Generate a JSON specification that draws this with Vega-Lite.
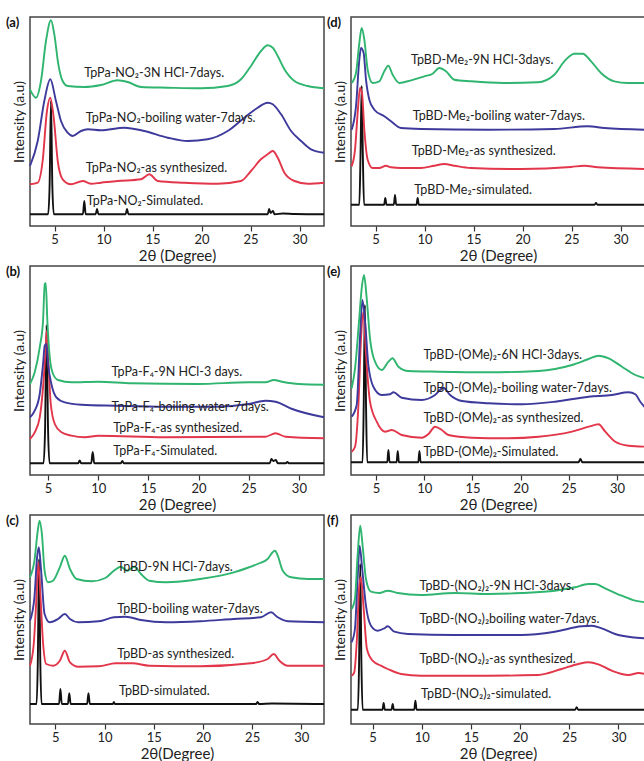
{
"$schema": "https://vega.github.io/schema/vega-lite/v6.json",
"padding": {"left": 5, "top": 15, "right": 0, "bottom": 0},
"bounds": "flush",
"columns": 2,
"spacing": {"row": 40, "column": 27},
"config": {
  "view": {"stroke": "#444444", "strokeWidth": 1.5},
  "font": "Lato",
  "axisX": {"grid": false, "domain": false, "tickColor": "#333333", "tickWidth": 1.2, "labelFontSize": 13, "labelFont": "Lato", "labelColor": "#222222", "labelPadding": 2, "titleFontSize": 15, "titleFont": "Lato", "titleFontWeight": "normal", "titleColor": "#222222", "titlePadding": 2,
    "values": [5, 7.5, 10, 12.5, 15, 17.5, 20, 22.5, 25, 27.5, 30],
    "labelExpr": "datum.value % 5 === 0 ? datum.label : ''",
    "tickSize": {"condition": {"test": "datum.value % 5 === 0", "value": 5}, "value": 3}},
  "axisY": {"grid": false, "domain": false, "ticks": false, "labels": false, "titleFontSize": 14, "titleFont": "Lato", "titleFontWeight": "normal", "titleColor": "#222222", "titlePadding": 4},
  "title": {"anchor": "start", "frame": "group", "fontSize": 13, "fontWeight": "bold", "font": "Lato", "baseline": "top", "offset": 0, "dx": -24, "dy": 17, "color": "#111111"},
  "text": {"font": "Lato", "fontSize": 12.5, "color": "#222222", "align": "left", "baseline": "middle"},
  "line": {"strokeWidth": 1.9, "clip": true, "interpolate": "monotone"}
},
"datasets": {
"a": [
{"series":"sim","x":2.5,"y":11.7},{"series":"sim","x":4.35,"y":11.7},{"series":"sim","x":4.5,"y":40},{"series":"sim","x":4.64,"y":125},{"series":"sim","x":4.78,"y":40},{"series":"sim","x":4.93,"y":11.7},{"series":"sim","x":7.9,"y":11.7},{"series":"sim","x":8.04,"y":25},{"series":"sim","x":8.18,"y":11.7},{"series":"sim","x":9.2,"y":11.7},{"series":"sim","x":9.34,"y":17},{"series":"sim","x":9.48,"y":11.7},{"series":"sim","x":12.26,"y":11.7},{"series":"sim","x":12.4,"y":17},{"series":"sim","x":12.54,"y":11.7},{"series":"sim","x":26.76,"y":11.7},{"series":"sim","x":26.9,"y":17},{"series":"sim","x":27.05,"y":13},{"series":"sim","x":27.3,"y":15},{"series":"sim","x":27.45,"y":11.7},{"series":"sim","x":28.3,"y":12.5},{"series":"sim","x":29.5,"y":12},{"series":"sim","x":32.5,"y":11.7},
{"series":"syn","x":2.5,"y":41.7},{"series":"syn","x":3.29,"y":43.3},{"series":"syn","x":3.79,"y":65},{"series":"syn","x":4.23,"y":115},{"series":"syn","x":4.57,"y":128.3},{"series":"syn","x":4.92,"y":108.3},{"series":"syn","x":5.33,"y":65},{"series":"syn","x":5.83,"y":46.7},{"series":"syn","x":6.68,"y":41.7},{"series":"syn","x":7.88,"y":45},{"series":"syn","x":8.72,"y":42.3},{"series":"syn","x":9.74,"y":43.3},{"series":"syn","x":11.44,"y":45},{"series":"syn","x":13.83,"y":46.7},{"series":"syn","x":14.68,"y":51.7},{"series":"syn","x":15.53,"y":45},{"series":"syn","x":18.25,"y":43.3},{"series":"syn","x":21.65,"y":42.3},{"series":"syn","x":24.03,"y":45},{"series":"syn","x":25.05,"y":55},{"series":"syn","x":26.07,"y":66.7},{"series":"syn","x":26.75,"y":71.7},{"series":"syn","x":27.27,"y":75},{"series":"syn","x":27.78,"y":68.3},{"series":"syn","x":28.46,"y":53.3},{"series":"syn","x":29.48,"y":45},{"series":"syn","x":30.84,"y":42.3},{"series":"syn","x":32.5,"y":43.3},
{"series":"water","x":2.5,"y":60},{"series":"water","x":3.29,"y":85},{"series":"water","x":3.96,"y":125},{"series":"water","x":4.57,"y":146.7},{"series":"water","x":5.15,"y":125},{"series":"water","x":5.66,"y":105},{"series":"water","x":6.34,"y":93.3},{"series":"water","x":6.86,"y":90},{"series":"water","x":7.7,"y":95},{"series":"water","x":8.39,"y":96.7},{"series":"water","x":9.74,"y":95.7},{"series":"water","x":12.12,"y":98.3},{"series":"water","x":14.17,"y":95},{"series":"water","x":16.55,"y":88.3},{"series":"water","x":18.59,"y":85},{"series":"water","x":20.63,"y":86.7},{"series":"water","x":22.67,"y":95},{"series":"water","x":24.37,"y":108.3},{"series":"water","x":25.73,"y":118.3},{"series":"water","x":26.75,"y":123.3},{"series":"water","x":27.27,"y":121.7},{"series":"water","x":28.12,"y":111.7},{"series":"water","x":29.14,"y":95},{"series":"water","x":30.16,"y":85},{"series":"water","x":31.17,"y":76.7},{"series":"water","x":32.5,"y":73.3},
{"series":"acid","x":2.5,"y":136.7},{"series":"acid","x":3.11,"y":128.3},{"series":"acid","x":3.62,"y":145},{"series":"acid","x":4.13,"y":185},{"series":"acid","x":4.64,"y":205.7},{"series":"acid","x":4.98,"y":191.7},{"series":"acid","x":5.39,"y":161.7},{"series":"acid","x":5.83,"y":145},{"series":"acid","x":6.34,"y":140},{"series":"acid","x":8.04,"y":139},{"series":"acid","x":9.74,"y":141},{"series":"acid","x":11.44,"y":145.7},{"series":"acid","x":12.47,"y":144},{"series":"acid","x":13.83,"y":139},{"series":"acid","x":16.55,"y":138.3},{"series":"acid","x":19.95,"y":137.7},{"series":"acid","x":22.67,"y":140},{"series":"acid","x":24.03,"y":146.7},{"series":"acid","x":25.05,"y":160},{"series":"acid","x":26.07,"y":175},{"series":"acid","x":26.75,"y":180.7},{"series":"acid","x":27.27,"y":178.3},{"series":"acid","x":27.78,"y":170},{"series":"acid","x":28.46,"y":156.7},{"series":"acid","x":29.48,"y":145},{"series":"acid","x":30.84,"y":140},{"series":"acid","x":32.5,"y":137.7}
],
"b": [
{"series":"sim","x":3.2,"y":11.7},{"series":"sim","x":4.55,"y":11.7},{"series":"sim","x":4.7,"y":45},{"series":"sim","x":4.85,"y":150},{"series":"sim","x":5.0,"y":45},{"series":"sim","x":5.15,"y":11.7},{"series":"sim","x":8.0,"y":11.7},{"series":"sim","x":8.15,"y":14.5},{"series":"sim","x":8.3,"y":11.7},{"series":"sim","x":9.3,"y":11.7},{"series":"sim","x":9.45,"y":23},{"series":"sim","x":9.6,"y":11.7},{"series":"sim","x":12.25,"y":11.7},{"series":"sim","x":12.4,"y":14},{"series":"sim","x":12.55,"y":11.7},{"series":"sim","x":27.1,"y":11.7},{"series":"sim","x":27.25,"y":16},{"series":"sim","x":27.45,"y":14},{"series":"sim","x":27.7,"y":15},{"series":"sim","x":27.9,"y":11.7},{"series":"sim","x":28.7,"y":11.7},{"series":"sim","x":28.85,"y":13},{"series":"sim","x":29.0,"y":11.7},{"series":"sim","x":32.5,"y":11.7},
{"series":"syn","x":3.2,"y":36},{"series":"syn","x":3.67,"y":42.7},{"series":"syn","x":4.17,"y":57.7},{"series":"syn","x":4.5,"y":87.7},{"series":"syn","x":4.73,"y":121},{"series":"syn","x":4.87,"y":144.3},{"series":"syn","x":5.0,"y":121},{"series":"syn","x":5.27,"y":71},{"series":"syn","x":5.67,"y":51},{"series":"syn","x":6.33,"y":42.7},{"series":"syn","x":7.33,"y":39.3},{"series":"syn","x":8.67,"y":37.7},{"series":"syn","x":10.0,"y":39.3},{"series":"syn","x":16.67,"y":37.7},{"series":"syn","x":26.67,"y":38.3},{"series":"syn","x":27.67,"y":41.7},{"series":"syn","x":28.67,"y":38.3},{"series":"syn","x":32.5,"y":36.7},
{"series":"water","x":3.2,"y":57.7},{"series":"water","x":3.67,"y":64.3},{"series":"water","x":4.17,"y":81},{"series":"water","x":4.5,"y":111},{"series":"water","x":4.67,"y":129.3},{"series":"water","x":4.83,"y":131},{"series":"water","x":5.0,"y":111},{"series":"water","x":5.33,"y":91},{"series":"water","x":5.83,"y":77.7},{"series":"water","x":6.67,"y":72.7},{"series":"water","x":8.33,"y":70.3},{"series":"water","x":11.67,"y":69.3},{"series":"water","x":16.67,"y":68.3},{"series":"water","x":21.67,"y":68.3},{"series":"water","x":25.0,"y":71},{"series":"water","x":26.67,"y":74.3},{"series":"water","x":27.67,"y":73.3},{"series":"water","x":29.33,"y":66},{"series":"water","x":32.5,"y":57.7},
{"series":"acid","x":3.2,"y":91},{"series":"acid","x":3.67,"y":102.7},{"series":"acid","x":4.17,"y":127.7},{"series":"acid","x":4.5,"y":154.3},{"series":"acid","x":4.67,"y":191},{"series":"acid","x":4.77,"y":191.7},{"series":"acid","x":4.93,"y":154},{"series":"acid","x":5.17,"y":117.7},{"series":"acid","x":5.5,"y":101},{"series":"acid","x":6.0,"y":95},{"series":"acid","x":7.33,"y":92.7},{"series":"acid","x":10.0,"y":93.3},{"series":"acid","x":13.33,"y":91.7},{"series":"acid","x":20.0,"y":91},{"series":"acid","x":25.0,"y":92.7},{"series":"acid","x":26.67,"y":92.7},{"series":"acid","x":27.5,"y":95},{"series":"acid","x":28.33,"y":93.3},{"series":"acid","x":30.0,"y":91},{"series":"acid","x":32.5,"y":90.3}
],
"c": [
{"series":"sim","x":2.43,"y":20},{"series":"sim","x":3.1,"y":20},{"series":"sim","x":3.22,"y":60},{"series":"sim","x":3.35,"y":165},{"series":"sim","x":3.48,"y":60},{"series":"sim","x":3.6,"y":20},{"series":"sim","x":5.38,"y":20},{"series":"sim","x":5.52,"y":35},{"series":"sim","x":5.66,"y":20},{"series":"sim","x":6.28,"y":20},{"series":"sim","x":6.42,"y":30.7},{"series":"sim","x":6.56,"y":20},{"series":"sim","x":8.23,"y":20},{"series":"sim","x":8.37,"y":30.7},{"series":"sim","x":8.51,"y":20},{"series":"sim","x":10.85,"y":20},{"series":"sim","x":10.95,"y":22},{"series":"sim","x":11.05,"y":20},{"series":"sim","x":25.4,"y":20},{"series":"sim","x":25.55,"y":22},{"series":"sim","x":25.7,"y":20},{"series":"sim","x":27.0,"y":20.5},{"series":"sim","x":32.3,"y":20},
{"series":"syn","x":2.43,"y":58.3},{"series":"syn","x":2.81,"y":80},{"series":"syn","x":3.05,"y":120},{"series":"syn","x":3.26,"y":161.7},{"series":"syn","x":3.5,"y":126.7},{"series":"syn","x":3.74,"y":83.3},{"series":"syn","x":4.08,"y":60},{"series":"syn","x":4.77,"y":58.3},{"series":"syn","x":5.46,"y":63.3},{"series":"syn","x":5.97,"y":73.3},{"series":"syn","x":6.49,"y":61.7},{"series":"syn","x":7.34,"y":57.3},{"series":"syn","x":9.41,"y":57.7},{"series":"syn","x":11.12,"y":60.7},{"series":"syn","x":12.83,"y":60.7},{"series":"syn","x":14.55,"y":58.3},{"series":"syn","x":19.72,"y":57.7},{"series":"syn","x":24.86,"y":60.7},{"series":"syn","x":26.57,"y":65},{"series":"syn","x":27.19,"y":70},{"series":"syn","x":27.77,"y":63.3},{"series":"syn","x":28.63,"y":58.3},{"series":"syn","x":32.34,"y":58.3},
{"series":"water","x":2.43,"y":103.3},{"series":"water","x":2.88,"y":126.7},{"series":"water","x":3.15,"y":166.7},{"series":"water","x":3.33,"y":176.7},{"series":"water","x":3.56,"y":153.3},{"series":"water","x":3.91,"y":110},{"series":"water","x":4.43,"y":101.7},{"series":"water","x":5.28,"y":105},{"series":"water","x":5.97,"y":110},{"series":"water","x":6.49,"y":105},{"series":"water","x":7.34,"y":101.7},{"series":"water","x":9.41,"y":102.7},{"series":"water","x":10.95,"y":106.7},{"series":"water","x":12.15,"y":107.3},{"series":"water","x":13.7,"y":104},{"series":"water","x":16.27,"y":101.7},{"series":"water","x":19.72,"y":102.7},{"series":"water","x":23.13,"y":105},{"series":"water","x":25.89,"y":106.7},{"series":"water","x":26.92,"y":111.7},{"series":"water","x":27.6,"y":106.7},{"series":"water","x":28.63,"y":102.7},{"series":"water","x":32.34,"y":101.7},
{"series":"acid","x":2.43,"y":146.7},{"series":"acid","x":2.88,"y":163.3},{"series":"acid","x":3.22,"y":193.3},{"series":"acid","x":3.4,"y":203.3},{"series":"acid","x":3.64,"y":190},{"series":"acid","x":3.91,"y":153.3},{"series":"acid","x":4.25,"y":141.7},{"series":"acid","x":4.77,"y":143.3},{"series":"acid","x":5.46,"y":156.7},{"series":"acid","x":5.97,"y":168.3},{"series":"acid","x":6.49,"y":155},{"series":"acid","x":7.17,"y":145},{"series":"acid","x":8.71,"y":142.7},{"series":"acid","x":10.09,"y":146},{"series":"acid","x":10.95,"y":153.3},{"series":"acid","x":11.64,"y":157.3},{"series":"acid","x":12.32,"y":153.3},{"series":"acid","x":13.01,"y":157.3},{"series":"acid","x":13.7,"y":150},{"series":"acid","x":14.55,"y":143.3},{"series":"acid","x":16.27,"y":141.7},{"series":"acid","x":19.72,"y":145},{"series":"acid","x":23.13,"y":151.7},{"series":"acid","x":25.54,"y":160},{"series":"acid","x":26.57,"y":165},{"series":"acid","x":27.08,"y":171.7},{"series":"acid","x":27.32,"y":173.3},{"series":"acid","x":27.6,"y":168.3},{"series":"acid","x":28.11,"y":153.3},{"series":"acid","x":28.97,"y":146.7},{"series":"acid","x":30.69,"y":145},{"series":"acid","x":32.34,"y":145}
],
"d": [
{"series":"sim","x":2.5,"y":21.3},{"series":"sim","x":3.35,"y":21.3},{"series":"sim","x":3.47,"y":70},{"series":"sim","x":3.59,"y":140},{"series":"sim","x":3.71,"y":70},{"series":"sim","x":3.83,"y":21.3},{"series":"sim","x":5.88,"y":21.3},{"series":"sim","x":6.0,"y":28},{"series":"sim","x":6.12,"y":21.3},{"series":"sim","x":6.87,"y":21.3},{"series":"sim","x":6.99,"y":31},{"series":"sim","x":7.11,"y":21.3},{"series":"sim","x":9.18,"y":21.3},{"series":"sim","x":9.3,"y":28},{"series":"sim","x":9.42,"y":21.3},{"series":"sim","x":27.35,"y":21.3},{"series":"sim","x":27.5,"y":23},{"series":"sim","x":27.65,"y":21.3},{"series":"sim","x":32.5,"y":21.3},
{"series":"syn","x":2.57,"y":59.7},{"series":"syn","x":2.91,"y":76.3},{"series":"syn","x":3.18,"y":113},{"series":"syn","x":3.42,"y":138},{"series":"syn","x":3.62,"y":133},{"series":"syn","x":3.86,"y":96.3},{"series":"syn","x":4.2,"y":66.3},{"series":"syn","x":4.71,"y":58},{"series":"syn","x":5.39,"y":58},{"series":"syn","x":6.07,"y":60.3},{"series":"syn","x":6.58,"y":58.7},{"series":"syn","x":7.6,"y":58},{"series":"syn","x":9.64,"y":58},{"series":"syn","x":11.0,"y":60.3},{"series":"syn","x":12.02,"y":62},{"series":"syn","x":13.04,"y":60.3},{"series":"syn","x":14.74,"y":58},{"series":"syn","x":19.85,"y":57},{"series":"syn","x":24.95,"y":59},{"series":"syn","x":26.31,"y":60.3},{"series":"syn","x":27.67,"y":58.7},{"series":"syn","x":32.5,"y":57},
{"series":"water","x":2.57,"y":96.3},{"series":"water","x":3.01,"y":119.7},{"series":"water","x":3.35,"y":166.3},{"series":"water","x":3.52,"y":178},{"series":"water","x":3.79,"y":173},{"series":"water","x":4.03,"y":146.3},{"series":"water","x":4.37,"y":126.3},{"series":"water","x":4.88,"y":116.3},{"series":"water","x":5.9,"y":109.7},{"series":"water","x":6.58,"y":104.7},{"series":"water","x":7.6,"y":98},{"series":"water","x":9.64,"y":97},{"series":"water","x":16.45,"y":96.3},{"series":"water","x":23.25,"y":97},{"series":"water","x":26.65,"y":99.7},{"series":"water","x":28.35,"y":98},{"series":"water","x":32.5,"y":96.3},
{"series":"acid","x":2.57,"y":143},{"series":"acid","x":3.01,"y":153},{"series":"acid","x":3.35,"y":183},{"series":"acid","x":3.59,"y":198},{"series":"acid","x":3.86,"y":186.3},{"series":"acid","x":4.2,"y":156.3},{"series":"acid","x":4.71,"y":143},{"series":"acid","x":5.39,"y":144.7},{"series":"acid","x":5.9,"y":154.7},{"series":"acid","x":6.31,"y":160.3},{"series":"acid","x":6.75,"y":151.3},{"series":"acid","x":7.43,"y":143},{"series":"acid","x":8.62,"y":145.7},{"series":"acid","x":9.98,"y":149.7},{"series":"acid","x":10.83,"y":152.3},{"series":"acid","x":11.51,"y":158},{"series":"acid","x":12.19,"y":154.7},{"series":"acid","x":13.04,"y":146.3},{"series":"acid","x":14.74,"y":144.7},{"series":"acid","x":18.1,"y":143},{"series":"acid","x":21.55,"y":143.7},{"series":"acid","x":23.25,"y":151.3},{"series":"acid","x":24.27,"y":164.7},{"series":"acid","x":25.29,"y":172.3},{"series":"acid","x":26.14,"y":172.3},{"series":"acid","x":27.0,"y":164.7},{"series":"acid","x":28.01,"y":153},{"series":"acid","x":29.37,"y":144.7},{"series":"acid","x":30.73,"y":143},{"series":"acid","x":32.5,"y":143}
],
"e": [
{"series":"sim","x":2.4,"y":12.7},{"series":"sim","x":3.6,"y":12.7},{"series":"sim","x":3.72,"y":70},{"series":"sim","x":3.84,"y":170},{"series":"sim","x":3.96,"y":70},{"series":"sim","x":4.08,"y":12.7},{"series":"sim","x":6.16,"y":12.7},{"series":"sim","x":6.28,"y":25},{"series":"sim","x":6.4,"y":12.7},{"series":"sim","x":7.13,"y":12.7},{"series":"sim","x":7.25,"y":24},{"series":"sim","x":7.37,"y":12.7},{"series":"sim","x":9.38,"y":12.7},{"series":"sim","x":9.5,"y":24},{"series":"sim","x":9.62,"y":12.7},{"series":"sim","x":26.0,"y":12.7},{"series":"sim","x":26.2,"y":16},{"series":"sim","x":26.4,"y":12.7},{"series":"sim","x":32.9,"y":12.7},
{"series":"syn","x":2.47,"y":23.3},{"series":"syn","x":2.82,"y":28.3},{"series":"syn","x":3.17,"y":70},{"series":"syn","x":3.44,"y":136.7},{"series":"syn","x":3.69,"y":163.3},{"series":"syn","x":3.96,"y":120},{"series":"syn","x":4.37,"y":73.3},{"series":"syn","x":5.07,"y":53.3},{"series":"syn","x":5.93,"y":43.3},{"series":"syn","x":6.63,"y":45},{"series":"syn","x":7.66,"y":40},{"series":"syn","x":9.74,"y":37.3},{"series":"syn","x":10.44,"y":41},{"series":"syn","x":11.12,"y":48.3},{"series":"syn","x":11.82,"y":45},{"series":"syn","x":12.51,"y":40},{"series":"syn","x":14.93,"y":37.3},{"series":"syn","x":18.39,"y":36.7},{"series":"syn","x":21.86,"y":38.3},{"series":"syn","x":25.32,"y":43.3},{"series":"syn","x":27.05,"y":48.3},{"series":"syn","x":28.09,"y":50.7},{"series":"syn","x":28.78,"y":43.3},{"series":"syn","x":29.82,"y":33.3},{"series":"syn","x":31.2,"y":29.3},{"series":"syn","x":32.93,"y":28.3},
{"series":"water","x":2.47,"y":58.3},{"series":"water","x":2.99,"y":70},{"series":"water","x":3.33,"y":136.7},{"series":"water","x":3.58,"y":175},{"series":"water","x":3.86,"y":153.3},{"series":"water","x":4.2,"y":110},{"series":"water","x":4.72,"y":88.3},{"series":"water","x":5.59,"y":80},{"series":"water","x":6.45,"y":80.7},{"series":"water","x":6.8,"y":82.7},{"series":"water","x":7.66,"y":77.3},{"series":"water","x":9.74,"y":75},{"series":"water","x":11.12,"y":80},{"series":"water","x":11.99,"y":87.3},{"series":"water","x":12.68,"y":80},{"series":"water","x":13.9,"y":74},{"series":"water","x":16.67,"y":71.7},{"series":"water","x":20.13,"y":70.7},{"series":"water","x":23.58,"y":73.3},{"series":"water","x":27.05,"y":78.3},{"series":"water","x":29.47,"y":80},{"series":"water","x":31.2,"y":82.7},{"series":"water","x":31.9,"y":80.7},{"series":"water","x":32.41,"y":73.3},{"series":"water","x":32.93,"y":67.3},
{"series":"acid","x":2.47,"y":86.7},{"series":"acid","x":2.82,"y":106.7},{"series":"acid","x":3.23,"y":153.3},{"series":"acid","x":3.51,"y":186.7},{"series":"acid","x":3.75,"y":200},{"series":"acid","x":4.03,"y":176.7},{"series":"acid","x":4.37,"y":136.7},{"series":"acid","x":4.89,"y":113.3},{"series":"acid","x":5.59,"y":105},{"series":"acid","x":6.28,"y":113.3},{"series":"acid","x":6.7,"y":116.7},{"series":"acid","x":7.32,"y":108.3},{"series":"acid","x":8.36,"y":104},{"series":"acid","x":11.48,"y":103.3},{"series":"acid","x":16.67,"y":102.7},{"series":"acid","x":21.86,"y":104},{"series":"acid","x":25.32,"y":110},{"series":"acid","x":27.05,"y":116},{"series":"acid","x":28.09,"y":119.3},{"series":"acid","x":29.13,"y":116.7},{"series":"acid","x":30.51,"y":108.3},{"series":"acid","x":31.9,"y":100},{"series":"acid","x":32.93,"y":96.7}
],
"f": [
{"series":"sim","x":2.8,"y":14.3},{"series":"sim","x":3.5,"y":14.3},{"series":"sim","x":3.62,"y":60},{"series":"sim","x":3.74,"y":160},{"series":"sim","x":3.86,"y":60},{"series":"sim","x":3.98,"y":14.3},{"series":"sim","x":6.0,"y":14.3},{"series":"sim","x":6.12,"y":21},{"series":"sim","x":6.24,"y":14.3},{"series":"sim","x":6.92,"y":14.3},{"series":"sim","x":7.04,"y":20},{"series":"sim","x":7.16,"y":14.3},{"series":"sim","x":9.23,"y":14.3},{"series":"sim","x":9.35,"y":23.3},{"series":"sim","x":9.47,"y":14.3},{"series":"sim","x":25.6,"y":14.3},{"series":"sim","x":25.75,"y":16.7},{"series":"sim","x":25.9,"y":14.3},{"series":"sim","x":32.7,"y":14.3},
{"series":"syn","x":2.86,"y":48.3},{"series":"syn","x":3.13,"y":51.7},{"series":"syn","x":3.4,"y":85},{"series":"syn","x":3.64,"y":138.3},{"series":"syn","x":3.81,"y":146.7},{"series":"syn","x":4.09,"y":115},{"series":"syn","x":4.42,"y":75},{"series":"syn","x":5.0,"y":63.3},{"series":"syn","x":5.85,"y":58.3},{"series":"syn","x":6.53,"y":55},{"series":"syn","x":7.89,"y":50},{"series":"syn","x":9.93,"y":48.3},{"series":"syn","x":16.74,"y":48.3},{"series":"syn","x":21.84,"y":49},{"series":"syn","x":24.22,"y":55},{"series":"syn","x":25.92,"y":60},{"series":"syn","x":26.94,"y":61.7},{"series":"syn","x":27.96,"y":59.7},{"series":"syn","x":29.32,"y":53.3},{"series":"syn","x":31.03,"y":49},{"series":"syn","x":32.05,"y":51},{"series":"syn","x":32.72,"y":50},
{"series":"water","x":2.86,"y":81.7},{"series":"water","x":3.2,"y":95},{"series":"water","x":3.47,"y":145},{"series":"water","x":3.68,"y":178.3},{"series":"water","x":3.94,"y":155},{"series":"water","x":4.32,"y":118.3},{"series":"water","x":4.83,"y":98.3},{"series":"water","x":5.51,"y":93.3},{"series":"water","x":6.19,"y":95.7},{"series":"water","x":6.53,"y":97.7},{"series":"water","x":7.21,"y":92.3},{"series":"water","x":8.58,"y":90},{"series":"water","x":13.33,"y":89},{"series":"water","x":20.14,"y":89},{"series":"water","x":23.54,"y":92.3},{"series":"water","x":26.26,"y":97.7},{"series":"water","x":27.28,"y":98.3},{"series":"water","x":28.3,"y":95.7},{"series":"water","x":29.66,"y":90},{"series":"water","x":31.36,"y":86.7},{"series":"water","x":32.72,"y":85.7},
{"series":"acid","x":2.86,"y":115},{"series":"acid","x":3.2,"y":125},{"series":"acid","x":3.47,"y":168.3},{"series":"acid","x":3.74,"y":198.3},{"series":"acid","x":3.98,"y":178.3},{"series":"acid","x":4.32,"y":145},{"series":"acid","x":4.83,"y":132.3},{"series":"acid","x":5.68,"y":131},{"series":"acid","x":6.53,"y":133.3},{"series":"acid","x":7.55,"y":131},{"series":"acid","x":9.93,"y":129},{"series":"acid","x":13.33,"y":131},{"series":"acid","x":16.74,"y":130},{"series":"acid","x":20.14,"y":131},{"series":"acid","x":23.54,"y":133.3},{"series":"acid","x":25.58,"y":136.7},{"series":"acid","x":26.94,"y":140},{"series":"acid","x":27.62,"y":140},{"series":"acid","x":28.64,"y":135.7},{"series":"acid","x":30.34,"y":128.3},{"series":"acid","x":31.7,"y":123.3},{"series":"acid","x":32.72,"y":121.7}
],
"la": [{"x":8.04,"y":153.3,"label":"TpPa-NO₂-3N HCl-7days."},{"x":8.2,"y":108.3,"label":"TpPa-NO₂-boiling water-7days."},{"x":8.2,"y":58.3,"label":"TpPa-NO₂-as synthesized."},{"x":8.3,"y":25,"label":"TpPa-NO₂-Simulated."}],
"lb": [{"x":11.33,"y":102.7,"label":"TpPa-F₄-9N HCl-3 days."},{"x":11.33,"y":67.7,"label":"TpPa-F₄-boiling water-7days."},{"x":11.5,"y":47,"label":"TpPa-F₄-as synthesized."},{"x":11.5,"y":23.7,"label":"TpPa-F₄-Simulated."}],
"lc": [{"x":11.29,"y":156.7,"label":"TpBD-9N HCl-7days."},{"x":11.29,"y":115,"label":"TpBD-boiling water-7days."},{"x":11.29,"y":70,"label":"TpBD-as synthesized."},{"x":11.46,"y":33.3,"label":"TpBD-simulated."}],
"ld": [{"x":8.62,"y":166.3,"label":"TpBD-Me₂-9N HCl-3days."},{"x":8.79,"y":109.7,"label":"TpBD-Me₂-boiling water-7days."},{"x":8.7,"y":74.7,"label":"TpBD-Me₂-as synthesized."},{"x":8.96,"y":36.3,"label":"TpBD-Me₂-simulated."}],
"le": [{"x":9.92,"y":120,"label":"TpBD-(OMe)₂-6N HCl-3days."},{"x":9.92,"y":86.7,"label":"TpBD-(OMe)₂-boiling water-7days."},{"x":9.92,"y":56.7,"label":"TpBD-(OMe)₂-as synthesized."},{"x":9.92,"y":23.3,"label":"TpBD-(OMe)₂-Simulated."}],
"lf": [{"x":9.76,"y":138.3,"label":"TpBD-(NO₂)₂-9N HCl-3days."},{"x":9.76,"y":105,"label":"TpBD-(NO₂)₂boiling water-7days."},{"x":9.76,"y":65,"label":"TpBD-(NO₂)₂-as synthesized."},{"x":9.93,"y":30,"label":"TpBD-(NO₂)₂-simulated."}]
},
"concat": [
{"width": 294, "height": 209, "title": "(a)", "layer": [
 {"data": {"name": "a"}, "mark": "line", "encoding": {"x": {"field": "x", "type": "quantitative", "scale": {"domain": [2.5, 32.5], "nice": false, "zero": false}, "axis": {"title": "2θ (Degree)"}}, "y": {"field": "y", "type": "quantitative", "scale": {"domain": [0, 209], "nice": false, "zero": false}, "axis": {"title": "Intensity (a.u)"}}, "color": {"field": "series", "type": "nominal", "scale": {"domain": ["sim", "syn", "water", "acid"], "range": ["#111111", "#e2364a", "#3d3a9c", "#2fb56f"]}, "legend": null}}},
 {"data": {"name": "la"}, "mark": "text", "encoding": {"x": {"field": "x", "type": "quantitative"}, "y": {"field": "y", "type": "quantitative"}, "text": {"field": "label"}}}
]},
{"width": 294, "height": 209, "title": "(d)", "layer": [
 {"data": {"name": "d"}, "mark": "line", "encoding": {"x": {"field": "x", "type": "quantitative", "scale": {"domain": [2.5, 32.5], "nice": false, "zero": false}, "axis": {"title": "2θ (Degree)"}}, "y": {"field": "y", "type": "quantitative", "scale": {"domain": [0, 209], "nice": false, "zero": false}, "axis": {"title": "Intensity (a.u)"}}, "color": {"field": "series", "type": "nominal", "scale": {"domain": ["sim", "syn", "water", "acid"], "range": ["#111111", "#e2364a", "#3d3a9c", "#2fb56f"]}, "legend": null}}},
 {"data": {"name": "ld"}, "mark": "text", "encoding": {"x": {"field": "x", "type": "quantitative"}, "y": {"field": "y", "type": "quantitative"}, "text": {"field": "label"}}}
]},
{"width": 294, "height": 209, "title": "(b)", "layer": [
 {"data": {"name": "b"}, "mark": "line", "encoding": {"x": {"field": "x", "type": "quantitative", "scale": {"domain": [3.2, 32.5], "nice": false, "zero": false}, "axis": {"title": "2θ (Degree)"}}, "y": {"field": "y", "type": "quantitative", "scale": {"domain": [0, 209], "nice": false, "zero": false}, "axis": {"title": "Intensity (a.u)"}}, "color": {"field": "series", "type": "nominal", "scale": {"domain": ["sim", "syn", "water", "acid"], "range": ["#111111", "#e2364a", "#3d3a9c", "#2fb56f"]}, "legend": null}}},
 {"data": {"name": "lb"}, "mark": "text", "encoding": {"x": {"field": "x", "type": "quantitative"}, "y": {"field": "y", "type": "quantitative"}, "text": {"field": "label"}}}
]},
{"width": 294, "height": 209, "title": "(e)", "layer": [
 {"data": {"name": "e"}, "mark": "line", "encoding": {"x": {"field": "x", "type": "quantitative", "scale": {"domain": [2.4, 32.9], "nice": false, "zero": false}, "axis": {"title": "2θ (Degree)"}}, "y": {"field": "y", "type": "quantitative", "scale": {"domain": [0, 209], "nice": false, "zero": false}, "axis": {"title": "Intensity (a.u)"}}, "color": {"field": "series", "type": "nominal", "scale": {"domain": ["sim", "syn", "water", "acid"], "range": ["#111111", "#e2364a", "#3d3a9c", "#2fb56f"]}, "legend": null}}},
 {"data": {"name": "le"}, "mark": "text", "encoding": {"x": {"field": "x", "type": "quantitative"}, "y": {"field": "y", "type": "quantitative"}, "text": {"field": "label"}}}
]},
{"width": 294, "height": 209, "title": "(c)", "layer": [
 {"data": {"name": "c"}, "mark": "line", "encoding": {"x": {"field": "x", "type": "quantitative", "scale": {"domain": [2.43, 32.3], "nice": false, "zero": false}, "axis": {"title": "2θ(Degree)"}}, "y": {"field": "y", "type": "quantitative", "scale": {"domain": [0, 209], "nice": false, "zero": false}, "axis": {"title": "Intensity (a.u)"}}, "color": {"field": "series", "type": "nominal", "scale": {"domain": ["sim", "syn", "water", "acid"], "range": ["#111111", "#e2364a", "#3d3a9c", "#2fb56f"]}, "legend": null}}},
 {"data": {"name": "lc"}, "mark": "text", "encoding": {"x": {"field": "x", "type": "quantitative"}, "y": {"field": "y", "type": "quantitative"}, "text": {"field": "label"}}}
]},
{"width": 294, "height": 209, "title": "(f)", "layer": [
 {"data": {"name": "f"}, "mark": "line", "encoding": {"x": {"field": "x", "type": "quantitative", "scale": {"domain": [2.8, 32.7], "nice": false, "zero": false}, "axis": {"title": "2θ (Degree)"}}, "y": {"field": "y", "type": "quantitative", "scale": {"domain": [0, 209], "nice": false, "zero": false}, "axis": {"title": "Intensity (a.u)"}}, "color": {"field": "series", "type": "nominal", "scale": {"domain": ["sim", "syn", "water", "acid"], "range": ["#111111", "#e2364a", "#3d3a9c", "#2fb56f"]}, "legend": null}}},
 {"data": {"name": "lf"}, "mark": "text", "encoding": {"x": {"field": "x", "type": "quantitative"}, "y": {"field": "y", "type": "quantitative"}, "text": {"field": "label"}}}
]}
]
}
